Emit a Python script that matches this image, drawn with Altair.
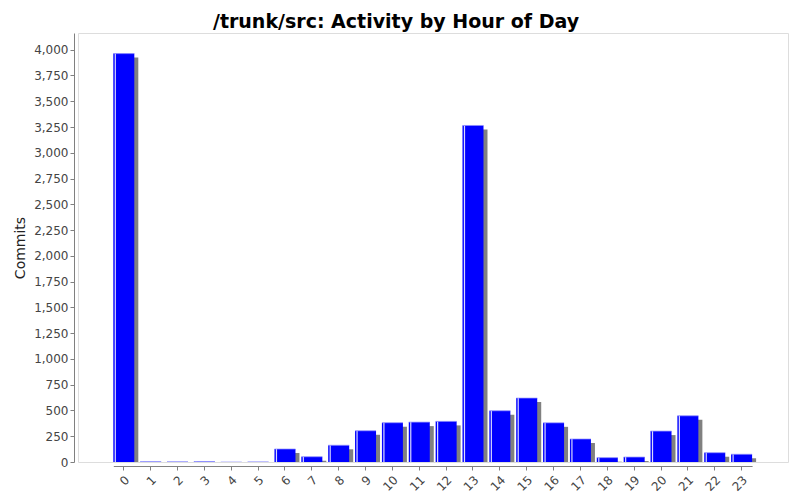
import altair as alt
import pandas as pd

hours = [str(h) for h in range(24)]
commits = [3962, 3, 2, 4, 0, 1, 126, 51, 162, 303, 381, 387, 394, 3265,
           497, 620, 380, 223, 42, 48, 300, 448, 90, 75]
y_ticks = list(range(0, 4001, 250))

df = pd.DataFrame({"hour": hours, "commits": commits})

x_enc = alt.X("hour:N", sort=hours,
              scale=alt.Scale(paddingInner=0.218, paddingOuter=0, range=[35.3, 674.1]),
              axis=alt.Axis(title=None, labelAngle=-45, offset=4,
                            domainColor="#808080", tickColor="#808080",
                            tickSize=4, labelColor="#444444", labelFontSize=12,
                            labelFont="DejaVu Sans", labelPadding=4))
y_enc = alt.Y("commits:Q",
              scale=alt.Scale(domain=[0, 4162], nice=False, zero=True),
              axis=alt.Axis(title="Commits", values=y_ticks, format=",d", offset=4,
                            grid=False, domainColor="#808080", tickColor="#808080",
                            tickSize=4, labelColor="#444444", labelFontSize=12,
                            labelFont="DejaVu Sans", titleFont="DejaVu Sans",
                            titleFontSize=14, titleFontWeight="normal",
                            titleColor="#222222", titlePadding=6))

base = alt.Chart(df)

shadow = base.mark_bar(color="#808080", xOffset=4, yOffset=4, clip=True).encode(x=x_enc, y=y_enc)
bars = base.mark_bar(color="#0000ff", clip=True).encode(x=x_enc, y=y_enc)
stripe = base.mark_bar(color="#ffffff", opacity=0.85, size=1.2, xOffset=-8.5, clip=True).encode(x=x_enc, y=y_enc)
top = base.mark_tick(color="#8c8cff", thickness=1, size=21, clip=True).encode(x=x_enc, y=y_enc)

chart = alt.layer(shadow, bars, stripe, top).properties(
    width=710, height=429,
    title=alt.TitleParams("/trunk/src: Activity by Hour of Day", font="DejaVu Sans",
                          fontSize=19, fontWeight="bold", color="#000000",
                          anchor="middle", offset=1, dx=-37),
    autosize=alt.AutoSizeParams(type="none"),
    padding={"left": 70, "top": 25, "right": 4, "bottom": 35},
).configure_view(stroke="#808080", strokeWidth=1).configure(background="white")

chart.save("out.html", embed_options={"renderer": "svg", "actions": False})
